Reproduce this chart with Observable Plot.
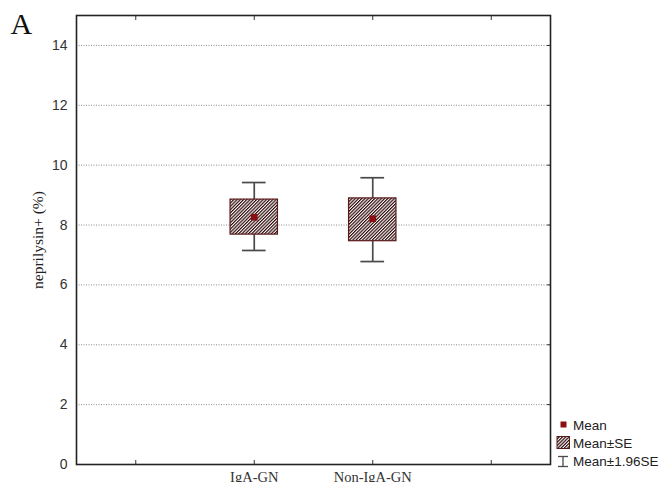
<!DOCTYPE html>
<html>
<head>
<meta charset="utf-8">
<script src="https://cdn.jsdelivr.net/npm/d3@7"></script>
<script src="https://cdn.jsdelivr.net/npm/@observablehq/plot@0.6"></script>
<style>
  html, body { margin: 0; padding: 0; background: #fff; }
  #chart { width: 662px; height: 482px; overflow: hidden; }
</style>
</head>
<body>
<div id="chart"></div>
<script>
// ---- data ----
const groups = ["IgA-GN", "Non-IgA-GN"];
const groupPos = [1, 2];
const means = [8.26, 8.21];
const seLow = [7.68, 7.46];
const seHigh = [8.85, 8.89];
const ciLow = [7.15, 6.78];
const ciHigh = [9.42, 9.58];
const yTicks = [0, 2, 4, 6, 8, 10, 12, 14];
const xTickPos = [0, 1, 2, 3];
const yLabel = "neprilysin+ (%)";
const panelLabel = "A";
const legendLabels = ["Mean", "Mean±SE", "Mean±1.96SE"];

const data = groups.map((g, i) => ({
  group: g, x: groupPos[i], mean: means[i],
  seLow: seLow[i], seHigh: seHigh[i], ciLow: ciLow[i], ciHigh: ciHigh[i]
}));

const boxHalf = 0.2, capHalf = 0.1;
const red = "#8a0f12";
const boxStroke = "#5a1a1a";
const whisker = "#4a4a4a";

const plot = Plot.plot({
  width: 662,
  height: 482,
  marginLeft: 76,
  marginRight: 112,
  marginTop: 15,
  marginBottom: 18,
  style: {fontFamily: "'Liberation Sans', Arial, sans-serif", fontSize: "13.5px", color: "#333", background: "#fff"},
  x: {type: "linear", domain: [-0.5, 3.5]},
  y: {domain: [0, 15]},
  marks: [
    Plot.gridY(yTicks.filter(d => d > 0), {stroke: "#8a8a8a", strokeOpacity: 1, strokeDasharray: "1,1.5", strokeWidth: 1}),
    Plot.axisY({ticks: yTicks, tickSize: 0, tickPadding: 9, label: null, fontSize: 14}),
    Plot.axisY({anchor: "right", ticks: yTicks, tickSize: -4, tickFormat: () => "", label: null}),
    Plot.axisX({ticks: xTickPos, tickSize: -4, tickFormat: () => "", label: null}),
    Plot.axisX({anchor: "top", ticks: xTickPos, tickSize: -4, tickFormat: () => "", label: null}),
    Plot.axisX({ticks: groupPos, tickSize: 0, tickPadding: 7, tickFormat: (d) => groups[groupPos.indexOf(d)],
      label: null, fontFamily: "'Liberation Serif', 'Times New Roman', serif", fontSize: 14.5, stroke: null}),
    Plot.ruleX(data, {x: "x", y1: "ciLow", y2: "ciHigh", stroke: whisker, strokeWidth: 1.7}),
    Plot.ruleY(data, {y: "ciLow", x1: d => d.x - capHalf, x2: d => d.x + capHalf, stroke: whisker, strokeWidth: 1.7}),
    Plot.ruleY(data, {y: "ciHigh", x1: d => d.x - capHalf, x2: d => d.x + capHalf, stroke: whisker, strokeWidth: 1.7}),
    Plot.rect(data, {x1: d => d.x - boxHalf, x2: d => d.x + boxHalf, y1: "seLow", y2: "seHigh",
      fill: "url(#hatch)", stroke: boxStroke, strokeWidth: 1.2}),
    Plot.dot(data, {x: "x", y: "mean", symbol: "square", r: 3.8, fill: red, stroke: null}),
    Plot.frame({stroke: "#222", strokeWidth: 1.6}),
    Plot.text([yLabel], {frameAnchor: "left", rotate: -90, dx: -38, textAnchor: "middle", fontSize: 15.5,
      fontFamily: "'Liberation Serif', 'Times New Roman', serif", fill: "#222"}),
    Plot.text([panelLabel], {frameAnchor: "top-left", dx: -66, dy: 18, textAnchor: "start", lineAnchor: "bottom",
      fontSize: 30, fontFamily: "'Liberation Serif', 'Times New Roman', serif", fill: "#111"})
  ]
});

const svg = d3.select(plot);
svg.attr("overflow", "hidden");
const defs = svg.insert("defs", ":first-child");
const pat = defs.append("pattern").attr("id", "hatch").attr("patternUnits", "userSpaceOnUse")
  .attr("width", 2.3).attr("height", 2.3).attr("patternTransform", "rotate(45)");
pat.append("rect").attr("width", 2.3).attr("height", 2.3).attr("fill", "#fff");
pat.append("rect").attr("width", 1.2).attr("height", 2.3).attr("fill", "#2e0808");

// legend (outside plot frame, bottom right)
const lg = svg.append("g")
  .attr("font-family", "'Liberation Sans', Arial, sans-serif")
  .attr("font-size", 13.5).attr("fill", "#222").attr("text-anchor", "start")
  .style("font-size", "13.5px");
lg.append("rect").attr("x", 560.5).attr("y", 421.5).attr("width", 6).attr("height", 6).attr("fill", red);
lg.append("text").attr("x", 573).attr("y", 429.5).attr("text-anchor", "start").text(legendLabels[0]);
lg.append("rect").attr("x", 557).attr("y", 436.5).attr("width", 12.5).attr("height", 12).attr("fill", "url(#hatch)").attr("stroke", boxStroke).attr("stroke-width", 1);
lg.append("text").attr("x", 573).attr("y", 447.5).attr("text-anchor", "start").text(legendLabels[1]);
const wl = lg.append("g").attr("stroke", whisker).attr("stroke-width", 1.3);
wl.append("line").attr("x1", 563).attr("x2", 563).attr("y1", 456.5).attr("y2", 466.5);
wl.append("line").attr("x1", 558).attr("x2", 568).attr("y1", 456.5).attr("y2", 456.5);
wl.append("line").attr("x1", 558).attr("x2", 568).attr("y1", 466.5).attr("y2", 466.5);
lg.append("text").attr("x", 573).attr("y", 466).attr("text-anchor", "start").text(legendLabels[2]);

document.getElementById("chart").appendChild(plot);
</script>
</body>
</html>
